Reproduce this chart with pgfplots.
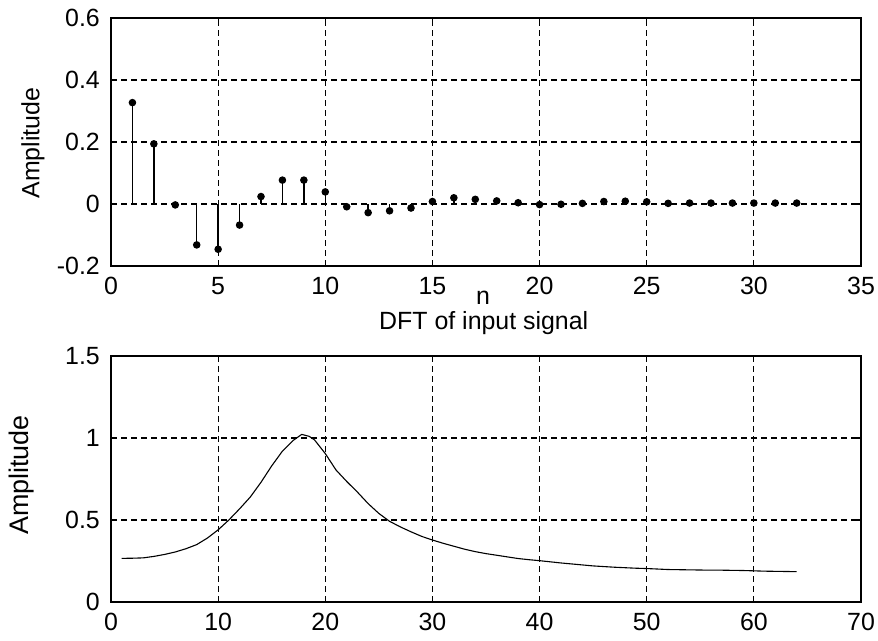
\documentclass[border=0pt]{standalone}
\usepackage{fontspec}
\setmainfont{Liberation Sans}
\usepackage{pgfplots}
\pgfplotsset{compat=1.18}
\pgfplotsset{
  mstyle/.style={
    scale only axis, width=750bp, anchor=north west,
    grid=major,
    grid style={black, line width=1.1bp, dash pattern=on 6bp off 4bp},
    axis line style={black, line width=1.3bp},
    tick align=inside, xtick pos=both, ytick pos=both,
    major tick length=6bp,
    every tick/.style={black, line width=1.1bp},
    /pgf/number format/assume math mode=true,
    xticklabel style={inner sep=0pt, anchor=north, yshift=-11bp},
    yticklabel style={inner sep=0pt, anchor=east, xshift=-11bp},
  }
}
\begin{document}
\begin{tikzpicture}[font=\fontsize{25}{30}\selectfont]
\useasboundingbox (0bp,0bp) rectangle (878bp,641bp);
\begin{axis}[mstyle,
  at={(111bp,623bp)}, height=248bp,
  xmin=0, xmax=35, ymin=-0.2, ymax=0.6,
  xtick={0,5,...,35},
  ytick={-0.2,0,0.2,0.4,0.6}, yticklabels={-0.2,0,0.2,0.4,0.6},
  xlabel={n},
  xlabel style={at={(axis description cs:0.496,-0.157)}, anchor=base, inner sep=0pt},
  ylabel={Amplitude},
  ylabel style={at={(axis description cs:-0.104,0.496)}, anchor=center},
]
\addplot[ycomb, black, line width=1.3bp, mark=*, mark size=3.1bp, mark options={fill=black}] coordinates {
(1,0.327) (2,0.194) (3,-0.003) (4,-0.132) (5,-0.146) (6,-0.068) (7,0.024) (8,0.077)
(9,0.077) (10,0.039) (11,-0.009) (12,-0.028) (13,-0.022) (14,-0.013) (15,0.008) (16,0.020)
(17,0.015) (18,0.010) (19,0.004) (20,-0.002) (21,-0.001) (22,0.002) (23,0.008) (24,0.009)
(25,0.007) (26,0.002) (27,0.003) (28,0.003) (29,0.003) (30,0.003) (31,0.003) (32,0.003)
};
\end{axis}
\begin{axis}[mstyle,
  at={(111bp,285bp)}, height=246bp,
  xmin=0, xmax=70, ymin=0, ymax=1.5,
  xtick={0,10,...,70},
  ytick={0,0.5,1,1.5}, yticklabels={0,0.5,1,1.5},
  title={DFT of input signal},
  title style={at={(axis description cs:0.497,1.085)}, anchor=base, inner sep=0pt},
  ylabel={Amplitude},
  ylabel style={at={(axis description cs:-0.119,0.516)}, anchor=center, font=\fontsize{27}{32}\selectfont},
]
\addplot[black, line width=1.1bp] coordinates {
(1,0.266) (2,0.267) (3,0.269) (4,0.278) (5,0.290) (6,0.305) (7,0.325) (8,0.350)
(9,0.390) (10,0.440) (11,0.500) (12,0.568) (13,0.640) (14,0.730) (15,0.830) (16,0.920)
(17,0.985) (17.8,1.022) (18.5,1.010) (19,0.988) (20,0.905) (21,0.805) (22,0.735) (23,0.670) (24,0.600)
(25,0.540) (26,0.492) (27,0.458) (28,0.428) (29,0.400) (30,0.378) (31,0.358) (32,0.340)
(33,0.322) (34,0.307) (35,0.295) (36,0.285) (37,0.275) (38,0.265) (39,0.258) (40,0.252)
(41,0.245) (42,0.238) (43,0.232) (44,0.226) (45,0.220) (46,0.216) (47,0.212) (48,0.209)
(49,0.206) (50,0.204) (51,0.201) (52,0.198) (53,0.197) (54,0.196) (55,0.195) (56,0.194)
(57,0.194) (58,0.193) (59,0.192) (60,0.190) (61,0.188) (62,0.187) (63,0.186) (64,0.185)
};
\end{axis}
\end{tikzpicture}
\end{document}
